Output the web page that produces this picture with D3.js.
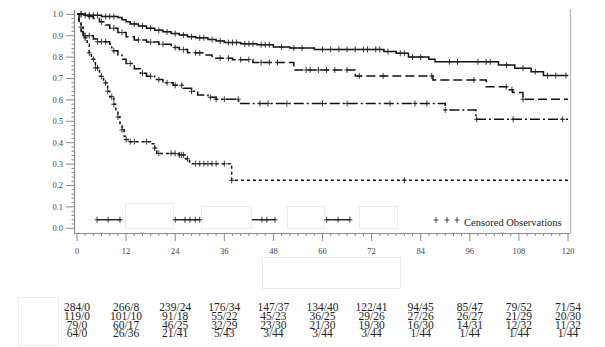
<!DOCTYPE html>
<html><head><meta charset="utf-8">
<script src="https://cdn.jsdelivr.net/npm/d3@7"></script>
<style>body{margin:0;background:#fff}svg{display:block}</style>
</head><body>
<script>
// ---------- data ----------
const timeTicks = [0,12,24,36,48,60,72,84,96,108,120];
const survTicks = [0.0,0.1,0.2,0.3,0.4,0.5,0.6,0.7,0.8,0.9,1.0];

// step points [time, survival]
const group1 = [[0,1],[2,0.995],[6,0.99],[10,0.985],[11,0.975],[12,0.965],[13,0.955],[15,0.945],[17,0.935],[19,0.925],[21,0.918],[23,0.91],[25,0.903],[27,0.895],[29,0.89],[32,0.882],[34,0.875],[36,0.868],[40,0.862],[44,0.858],[48,0.847],[52,0.842],[58,0.836],[75,0.826],[78,0.818],[81,0.80],[86,0.79],[87.5,0.778],[103,0.763],[107,0.748],[111,0.732],[114,0.714]];
const group2 = [[0,1],[2,0.99],[4,0.98],[5.5,0.965],[7,0.95],[8,0.935],[10,0.915],[12,0.895],[14,0.88],[17,0.87],[20,0.86],[23,0.845],[25,0.835],[27,0.82],[31,0.81],[33,0.795],[38,0.788],[43,0.775],[53,0.74],[68,0.712],[87,0.693],[100,0.662],[105,0.648],[106.5,0.635],[109,0.603]];
const group3 = [[0,1],[0.5,0.96],[1,0.92],[1.5,0.9],[4,0.885],[5,0.872],[8,0.86],[8.5,0.83],[10,0.81],[11,0.79],[12,0.77],[14,0.745],[15.5,0.725],[17,0.71],[19,0.695],[21,0.68],[23.5,0.668],[26,0.655],[28,0.64],[29.5,0.623],[32,0.612],[34,0.603],[39.5,0.583],[90,0.553],[97.5,0.509]];
const group4 = [[0,1],[0.5,0.97],[1,0.94],[1.5,0.91],[2,0.89],[2.5,0.86],[3,0.82],[3.5,0.79],[4.5,0.75],[5.5,0.71],[6.5,0.68],[7.5,0.64],[8,0.615],[9,0.58],[9.5,0.55],[10,0.52],[10.5,0.49],[11,0.46],[11.5,0.43],[12,0.415],[13,0.405],[18,0.395],[19,0.375],[19.5,0.35],[25,0.343],[26.5,0.325],[27.5,0.31],[28,0.302],[37.8,0.224]];

// censored times
const cens1 = [1,2,3,4,5,7,8,9,14,16,18,20,22,24,26,28,30,31,33,35,37,38,39,41,42,43,45,46,47,50,53,55,60,62,64,66,68,70,71,73,74,76,79,80,82,84,91,93,98,100,101,105,109,112,115,117,119.5];
const cens2 = [1,3,6,9,11,15,18,21,24,26,29,30,35,37,40,42,45,47,49,56,57,59,61,63,66,69,74.8,86.7,97,104.9,106.3,109];
const cens3 = [2,3,5,6,7,9,13,16,18,20,22,24,25.6,28,32.6,34,36,39.4,44.7,46.7,51.3,60,66,76.5,82.6,85.5,90,97.7,106.6,118.7];
const cens4 = [1,2,3,4,4.5,5,6,7,7.5,8.5,9,10,11,12,13,14,17,19,20,23,24,25,25.5,26,27,29,30,31,32,33,34,36,37.8,80];

// censored bar segments at survival 0.04
const lowLevel = 0.04;
const lowSegments = [[4.9,10.8],[24,30],[42.7,48.4],[61,66.7]];
const lowCens = [4.9,7.6,10.5,24,26.4,27.6,28.9,30,45.2,46.4,48.4,61,63.8,66.7];

// number at risk / events table
const riskRows = [
  ["284/0","266/8","239/24","176/34","147/37","134/40","122/41","94/45","85/47","79/52","71/54"],
  ["119/0","101/10","91/18","55/22","45/23","36/25","29/26","27/26","26/27","21/29","20/30"],
  ["79/0","60/17","46/25","32/29","23/30","21/30","19/30","16/30","14/31","12/32","11/32"],
  ["64/0","26/36","21/41","5/43","3/44","3/44","3/44","1/44","1/44","1/44","1/44"]
];
const legendLabel = "Censored Observations";

// ---------- drawing ----------
const W = 605, H = 347;
const svg = d3.select("body").append("svg").attr("width", W).attr("height", H);
const FONT = "'Liberation Serif','Times New Roman',serif";

const x = d3.scaleLinear().domain([0,120]).range([77,568]);
const y = d3.scaleLinear().domain([0,1]).range([228.3,14.3]);
const axisY = 233, axisX = 74;

// faint artifact boxes
const ghost = svg.append("g").attr("fill","none").attr("stroke","#ececec").attr("stroke-width",1);
[[125,203,48,25],[201,206,50,22],[287,206,37,22],[359,206,38,22],[18,297,40,48],[262,257,138,31]].forEach(r=>{
  ghost.append("rect").attr("x",r[0]+0.5).attr("y",r[1]+0.5).attr("width",r[2]).attr("height",r[3]);
});

// right border
svg.append("line").attr("x1",570.5).attr("x2",570.5).attr("y1",9).attr("y2",axisY)
  .attr("stroke","#b5b5b5").attr("stroke-width",1.2);

// y axis
const gy = svg.append("g");
gy.append("line").attr("x1",axisX+0.5).attr("x2",axisX+0.5).attr("y1",10).attr("y2",axisY)
  .attr("stroke","#8a8a8a").attr("stroke-width",1.2);
d3.range(0,1.0001,0.02).forEach(v=>{
  const major = Math.abs(Math.round(v*10)-v*10)<1e-6;
  gy.append("line").attr("x1",axisX - (major?8:2.5)).attr("x2",axisX)
    .attr("y1",y(v)).attr("y2",y(v)).attr("stroke","#8a8a8a").attr("stroke-width",1);
});
gy.selectAll("text").data(survTicks).join("text")
  .attr("x",63).attr("y",d=>y(d)+2.8).attr("text-anchor","end")
  .attr("font-family",FONT).attr("font-size",8.5).attr("fill","#444")
  .text(d=>d.toFixed(1));

// x axis
const gx = svg.append("g");
gx.append("line").attr("x1",axisX).attr("x2",570).attr("y1",axisY+0.5).attr("y2",axisY+0.5)
  .attr("stroke","#8a8a8a").attr("stroke-width",1.2);
d3.range(0,121,2).forEach(v=>{
  const major = v%12===0;
  gx.append("line").attr("x1",x(v)).attr("x2",x(v)).attr("y1",axisY)
    .attr("y2",axisY + (major?8:3)).attr("stroke","#8a8a8a").attr("stroke-width",1);
});
gx.selectAll("text").data(timeTicks).join("text")
  .attr("x",d=>x(d)).attr("y",axisY+21).attr("text-anchor","middle")
  .attr("font-family",FONT).attr("font-size",8.5).attr("fill","#444")
  .text(d=>d);

// curves
function survAt(steps,t){ let s=steps[0][1]; for(const p of steps){ if(p[0]<=t) s=p[1]; } return s; }
const line = d3.line().x(d=>x(d[0])).y(d=>y(d[1])).curve(d3.curveStepAfter);
const groups = [
  {steps:group1, cens:cens1, dash:null},
  {steps:group2, cens:cens2, dash:"9,4"},
  {steps:group3, cens:cens3, dash:"10,3,2,3"},
  {steps:group4, cens:cens4, dash:"3,3"}
];
const cg = svg.append("g");
groups.forEach(g=>{
  const pts = g.steps.concat([[120, g.steps[g.steps.length-1][1]]]);
  cg.append("path").attr("d",line(pts)).attr("fill","none").attr("stroke","#111")
    .attr("stroke-width",1.5).attr("stroke-dasharray",g.dash);
  g.cens.forEach(t=>{
    const cx = x(t), cy = y(survAt(g.steps,t));
    cg.append("path").attr("d",`M${cx-2.5},${cy}H${cx+2.5}M${cx},${cy-3}V${cy+3}`)
      .attr("stroke","#222").attr("stroke-width",0.9).attr("fill","none");
  });
});

// low censored bars
lowSegments.forEach(s=>{
  cg.append("line").attr("x1",x(s[0])).attr("x2",x(s[1])).attr("y1",y(lowLevel)).attr("y2",y(lowLevel))
    .attr("stroke","#111").attr("stroke-width",1.3);
});
lowCens.forEach(t=>{
  const cx=x(t), cy=y(lowLevel);
  cg.append("path").attr("d",`M${cx-2.5},${cy}H${cx+2.5}M${cx},${cy-3}V${cy+3}`)
    .attr("stroke","#222").attr("stroke-width",0.9);
});

// legend
const lg = svg.append("g");
[436,447,457].forEach(cx=>{
  lg.append("path").attr("d",`M${cx-2.5},220H${cx+2.5}M${cx},217V223`).attr("stroke","#333").attr("stroke-width",0.9);
});
lg.append("text").attr("x",464).attr("y",225.5).attr("font-family",FONT).attr("font-size",10.5)
  .attr("fill","#222").text(legendLabel);

// risk table
const tg = svg.append("g");
const rowY = [311,320,328.5,337];
riskRows.forEach((row,i)=>{
  row.forEach((txt,j)=>{
    tg.append("text").attr("x",x(timeTicks[j])).attr("y",rowY[i]).attr("text-anchor","middle")
      .attr("font-family",FONT).attr("font-size",11.5).attr("fill","#222").text(txt);
  });
});
</script>
</body></html>
